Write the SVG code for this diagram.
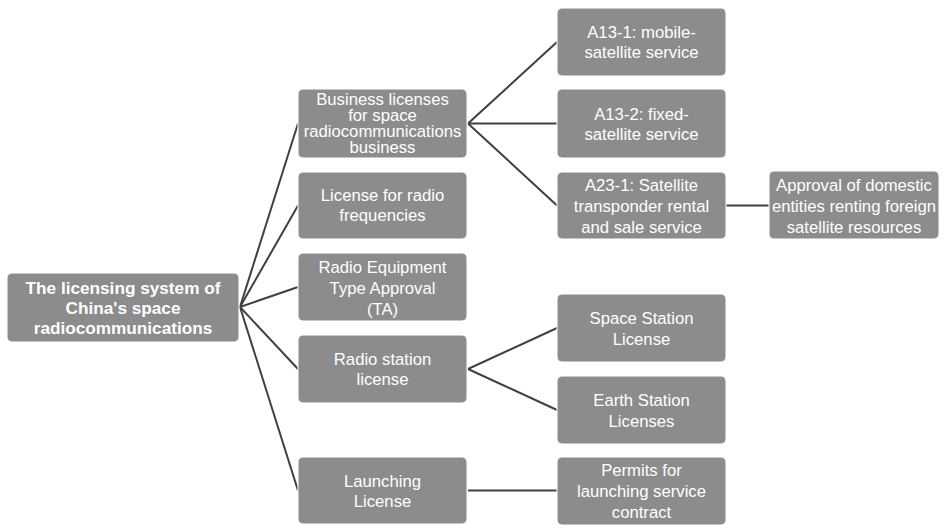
<svg xmlns="http://www.w3.org/2000/svg" width="943" height="525" viewBox="0 0 943 525">
<style>
.box{fill:#8c8c8c;stroke:#ffffff;stroke-width:1}
.t{font-family:"Liberation Sans",Arial,sans-serif;font-size:16.7px;fill:#ffffff;text-anchor:middle}
.b{font-weight:bold;font-size:17.2px}
.c{stroke:#404040;stroke-width:2;fill:none}
</style>
<rect width="943" height="525" fill="#ffffff"/>
<g id="connectors">
<line class="c" x1="240" y1="307" x2="298" y2="123.5"/>
<line class="c" x1="240" y1="307" x2="298" y2="205.5"/>
<line class="c" x1="240" y1="307" x2="298" y2="287"/>
<line class="c" x1="240" y1="307" x2="298" y2="369"/>
<line class="c" x1="240" y1="307" x2="298" y2="490.5"/>
<line class="c" x1="468" y1="123.5" x2="557" y2="42"/>
<line class="c" x1="468" y1="123.5" x2="557" y2="123.5"/>
<line class="c" x1="468" y1="123.5" x2="557" y2="205.5"/>
<line class="c" x1="726" y1="205.5" x2="769" y2="205.5"/>
<line class="c" x1="468" y1="369" x2="557" y2="328"/>
<line class="c" x1="468" y1="369" x2="557" y2="410"/>
<line class="c" x1="468" y1="490.5" x2="557" y2="490.5"/>
</g>
<g id="root">
<rect class="box" x="7" y="273" width="232" height="69" rx="5"/>
<text class="t b" x="123" y="294">The licensing system of</text>
<text class="t b" x="123" y="314">China's space</text>
<text class="t b" x="123" y="334">radiocommunications</text>
</g>
<g id="business">
<rect class="box" x="298" y="89" width="169" height="69" rx="5"/>
<text class="t" x="382.5" y="105">Business licenses</text>
<text class="t" x="382.5" y="121">for space</text>
<text class="t" x="382.5" y="137">radiocommunications</text>
<text class="t" x="382.5" y="153">business</text>
</g>
<g id="freq">
<rect class="box" x="298" y="172" width="169" height="67" rx="5"/>
<text class="t" x="382.5" y="201">License for radio</text>
<text class="t" x="382.5" y="221">frequencies</text>
</g>
<g id="ta">
<rect class="box" x="298" y="253" width="169" height="68" rx="5"/>
<text class="t" x="382.5" y="273">Radio Equipment</text>
<text class="t" x="382.5" y="294">Type Approval</text>
<text class="t" x="382.5" y="315">(TA)</text>
</g>
<g id="station">
<rect class="box" x="298" y="335" width="169" height="68" rx="5"/>
<text class="t" x="382.5" y="365">Radio station</text>
<text class="t" x="382.5" y="385">license</text>
</g>
<g id="launch">
<rect class="box" x="298" y="457" width="169" height="67" rx="5"/>
<text class="t" x="382.5" y="487">Launching</text>
<text class="t" x="382.5" y="507">License</text>
</g>
<g id="a131">
<rect class="box" x="557" y="8" width="169" height="68" rx="5"/>
<text class="t" x="641.5" y="38">A13-1: mobile-</text>
<text class="t" x="641.5" y="58">satellite service</text>
</g>
<g id="a132">
<rect class="box" x="557" y="89" width="169" height="69" rx="5"/>
<text class="t" x="641.5" y="120">A13-2: fixed-</text>
<text class="t" x="641.5" y="140">satellite service</text>
</g>
<g id="a231">
<rect class="box" x="557" y="172" width="169" height="67" rx="5"/>
<text class="t" x="641.5" y="191">A23-1: Satellite</text>
<text class="t" x="641.5" y="212">transponder rental</text>
<text class="t" x="641.5" y="233">and sale service</text>
</g>
<g id="approval">
<rect class="box" x="769" y="171" width="170" height="68" rx="5"/>
<text class="t" x="854" y="191">Approval of domestic</text>
<text class="t" x="854" y="212">entities renting foreign</text>
<text class="t" x="854" y="233">satellite resources</text>
</g>
<g id="space">
<rect class="box" x="557" y="294" width="169" height="68" rx="5"/>
<text class="t" x="641.5" y="324">Space Station</text>
<text class="t" x="641.5" y="345">License</text>
</g>
<g id="earth">
<rect class="box" x="557" y="376" width="169" height="68" rx="5"/>
<text class="t" x="641.5" y="406">Earth Station</text>
<text class="t" x="641.5" y="427">Licenses</text>
</g>
<g id="permits">
<rect class="box" x="557" y="457" width="169" height="68" rx="5"/>
<text class="t" x="641.5" y="476">Permits for</text>
<text class="t" x="641.5" y="497">launching service</text>
<text class="t" x="641.5" y="518">contract</text>
</g>
</svg>
